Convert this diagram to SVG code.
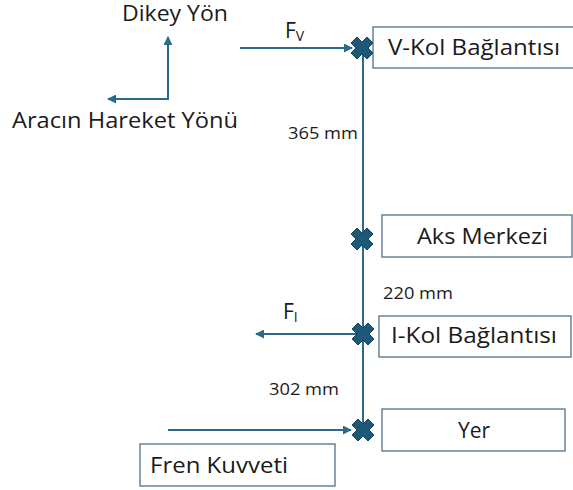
<svg xmlns="http://www.w3.org/2000/svg" width="573" height="490" viewBox="0 0 573 490">
<style>
.t{font-family:"Open Sans","Liberation Sans",Arial,sans-serif;fill:#1a1a1a}
.lg{font-size:21px}
.sm{font-size:15.5px}
.box{fill:#fff;stroke:#4f7189;stroke-width:1.3}
.ln{stroke:#2a6a8c;stroke-width:2;fill:none}
.x{fill:#1d5877;stroke:#16455e;stroke-width:1;stroke-linejoin:round}
</style>
<defs>
<marker id="ah" viewBox="0 0 10 10" refX="9" refY="5" markerWidth="4.5" markerHeight="4.5" orient="auto-start-reverse" markerUnits="strokeWidth">
<path d="M0,0 L10,5 L0,10 z" fill="#2a6a8c"/>
</marker>
<path id="cross" d="M-5,-11 L0,-6 L5,-11 L11,-5 L6,0 L11,5 L5,11 L0,6 L-5,11 L-11,5 L-6,0 L-11,-5 z"/>
</defs>
<rect width="573" height="490" fill="#fff"/>
<g id="connectors">
<line class="ln" x1="363" y1="48" x2="363" y2="432"/>
<line class="ln" x1="240" y1="48" x2="352" y2="48" marker-end="url(#ah)"/>
<line class="ln" x1="363" y1="334" x2="256" y2="334" marker-end="url(#ah)"/>
<line class="ln" x1="168" y1="430" x2="351" y2="430" marker-end="url(#ah)"/>
<polyline class="ln" points="108,99 168,99 168,37" marker-start="url(#ah)" marker-end="url(#ah)"/>
</g>
<g id="direction-labels">
<text class="t lg" x="122" y="21" textLength="106" lengthAdjust="spacingAndGlyphs">Dikey Yön</text>
<text class="t lg" x="12" y="128" textLength="226" lengthAdjust="spacingAndGlyphs">Aracın Hareket Yönü</text>
</g>
<g id="force-labels">
<text class="t lg" x="285" y="38">F<tspan font-size="14" dy="3">V</tspan></text>
<text class="t lg" x="283" y="319">F<tspan font-size="14" dy="3">I</tspan></text>
<text class="t sm" x="288" y="139" textLength="70" lengthAdjust="spacingAndGlyphs">365 mm</text>
<text class="t sm" x="383" y="299" textLength="70" lengthAdjust="spacingAndGlyphs">220 mm</text>
<text class="t sm" x="269" y="395" textLength="70" lengthAdjust="spacingAndGlyphs">302 mm</text>
</g>
<g id="v-kol">
<rect class="box" x="373" y="27" width="205" height="41"/>
<use href="#cross" class="x" x="362" y="48"/>
<text class="t lg" x="388" y="55" textLength="172" lengthAdjust="spacingAndGlyphs">V-Kol Bağlantısı</text>
</g>
<g id="aks-merkezi">
<rect class="box" x="382" y="215" width="190" height="42"/>
<use href="#cross" class="x" x="362" y="239"/>
<text class="t lg" x="417" y="244" textLength="131" lengthAdjust="spacingAndGlyphs">Aks Merkezi</text>
</g>
<g id="i-kol">
<rect class="box" x="379" y="316" width="192" height="41"/>
<use href="#cross" class="x" x="363" y="334"/>
<text class="t lg" x="391" y="343" textLength="166" lengthAdjust="spacingAndGlyphs">I-Kol Bağlantısı</text>
</g>
<g id="yer">
<rect class="box" x="382" y="409" width="183" height="42"/>
<use href="#cross" class="x" x="363" y="430"/>
<text class="t lg" x="474" y="438" text-anchor="middle">Yer</text>
</g>
<g id="fren-kuvveti">
<rect class="box" x="140" y="444" width="195" height="42"/>
<text class="t lg" x="150" y="473" textLength="138" lengthAdjust="spacingAndGlyphs">Fren Kuvveti</text>
</g>
</svg>
